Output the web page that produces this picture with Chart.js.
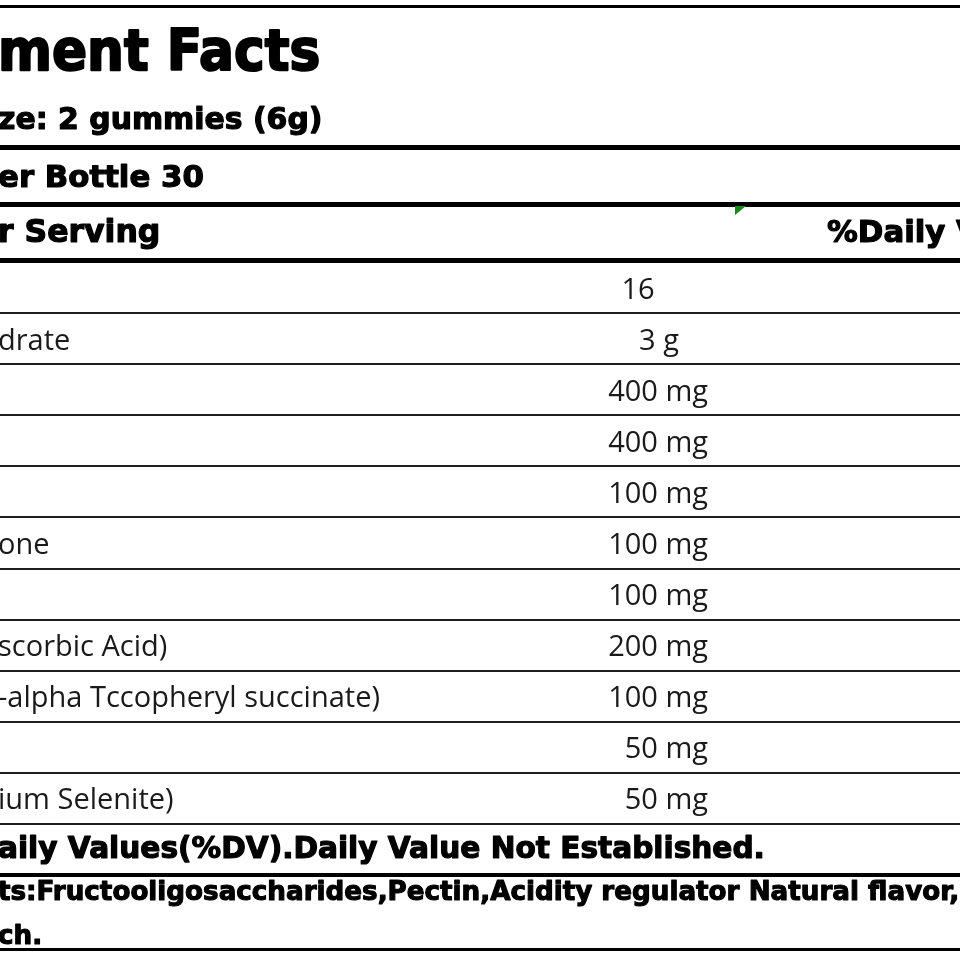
<!DOCTYPE html>
<html>
<head>
<meta charset="utf-8">
<script src="https://cdn.jsdelivr.net/npm/chart.js@4.4.1/dist/chart.umd.min.js"></script>
<style>
  html, body { margin: 0; padding: 0; background: #fff; }
  #wrap { width: 960px; height: 960px; overflow: hidden; }
</style>
</head>
<body>
<div id="wrap"><canvas id="factsChart" width="960" height="960"></canvas></div>
<script>
// visible parts of the label (the picture is cropped on the left)
const titleText = 'ment Facts';
const servingSize = 'ze: 2 gummies (6g)';
const servingsPer = 'er Bottle 30';
const amountHeader = 'r Serving';
const dvHeader = '%Daily V';
const footNote = 'aily Values(%DV).Daily Value Not Established.';
const ingredientLines = ['ts:Fructooligosaccharides,Pectin,Acidity regulator Natural flavor,', 'ch.'];

// one entry per nutrient row
const rowNames = ['', 'drate', '', '', '', 'one', '', 'scorbic Acid)', '-alpha Tccopheryl succinate)', '', 'ium Selenite)'];
const amounts = [16, 3, 400, 400, 100, 100, 100, 200, 100, 50, 50];
const units = ['', 'g', 'mg', 'mg', 'mg', 'mg', 'mg', 'mg', 'mg', 'mg', 'mg'];

const boldFont = '"DejaVu Sans", Verdana, sans-serif';
const rowFont = '"Open Sans", "Noto Sans", sans-serif';

function amountLabel(i) {
    return units[i] ? amounts[i] + ' ' + units[i] : String(amounts[i]);
}

function bar(ctx, y, h) {
    ctx.fillStyle = '#000';
    ctx.fillRect(0, y, 960, h);
}

// heavy bold text: fill plus a thin stroke, optionally stretched vertically
function heavyText(ctx, text, x, y, size, weight, stretch) {
    ctx.save();
    ctx.translate(x, y);
    ctx.scale(1, stretch || 1);
    ctx.font = 'bold ' + size + 'px ' + boldFont;
    ctx.fillStyle = '#000';
    ctx.strokeStyle = '#000';
    ctx.lineWidth = weight;
    ctx.lineJoin = 'round';
    ctx.textAlign = 'left';
    ctx.textBaseline = 'alphabetic';
    ctx.fillText(text, 0, 0);
    ctx.strokeText(text, 0, 0);
    ctx.restore();
}

const factsPlugin = {
    id: 'facts',
    afterDraw(chart) {
        const ctx = chart.ctx;
        const yScale = chart.scales.y;
        const area = chart.chartArea;
        ctx.save();

        // header rules
        bar(ctx, 5, 3);
        bar(ctx, 145, 5);
        bar(ctx, 202, 5);
        bar(ctx, area.top - 4, 5);

        heavyText(ctx, titleText, -2, 70, 51.8, 2, 1.1);
        heavyText(ctx, servingSize, -2, 129, 29.9, 1.2);
        heavyText(ctx, servingsPer, -2, 187, 30.8, 1.2);
        heavyText(ctx, amountHeader, -2, 242, 31.5, 1.2);
        heavyText(ctx, dvHeader, 827, 242, 30.8, 1.2);

        // little green cell marker
        ctx.fillStyle = '#1b8a1b';
        ctx.beginPath();
        ctx.moveTo(735, 206);
        ctx.lineTo(746, 206);
        ctx.lineTo(735, 215);
        ctx.closePath();
        ctx.fill();

        // nutrient rows
        ctx.fillStyle = '#1a1a1a';
        ctx.font = '29px ' + rowFont;
        ctx.textBaseline = 'alphabetic';
        rowNames.forEach((name, i) => {
            const y = yScale.getPixelForValue(i) + 11;
            ctx.textAlign = 'left';
            ctx.fillText(name, -2, y);
            const label = amountLabel(i);
            if (units[i] === 'mg') {
                ctx.textAlign = 'right';
                ctx.fillText(label, 708, y);
            } else {
                ctx.textAlign = 'center';
                ctx.fillText(label, i === 0 ? 638 : 659, y);
            }
        });

        // footer
        heavyText(ctx, footNote, -2, 858, 29.6, 1.2);
        bar(ctx, 873, 4);
        heavyText(ctx, ingredientLines[0], -2, 900, 26.2, 1.1);
        heavyText(ctx, ingredientLines[1], -2, 944, 26.2, 1.1);
        bar(ctx, 948, 3);

        ctx.restore();
    }
};

const chart = new Chart(document.getElementById('factsChart'), {
    type: 'bar',
    data: {
        labels: rowNames,
        datasets: [{
            data: amounts,
            backgroundColor: 'rgba(0,0,0,0)',
            borderWidth: 0
        }]
    },
    options: {
        responsive: false,
        animation: false,
        indexAxis: 'y',
        layout: { padding: { top: 262, bottom: 136, left: 0, right: 0 } },
        plugins: {
            legend: { display: false },
            tooltip: { enabled: false }
        },
        scales: {
            x: { display: false, min: 0, max: 1000 },
            y: {
                offset: true,
                border: { display: false },
                ticks: { display: false },
                grid: { offset: true, color: '#1e1e1e', lineWidth: 2, drawTicks: false },
                afterFit(scale) { scale.width = 0; }
            }
        }
    },
    plugins: [factsPlugin]
});
</script>
</body>
</html>
